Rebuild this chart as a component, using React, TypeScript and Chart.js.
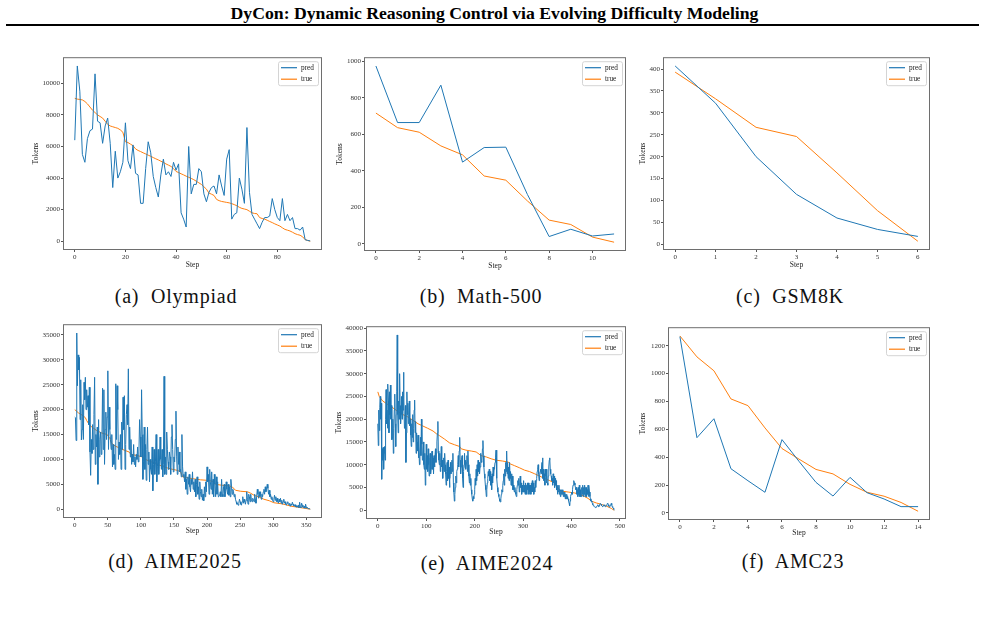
import React, { useEffect, useRef } from 'react';
import { Chart, registerables } from 'chart.js';

Chart.register(...registerables);

const FONT = '"Liberation Serif", "Times New Roman", serif';
const PRED_COLOR = '#1f77b4';
const TRUE_COLOR = '#ff7f0e';

// ---------- (a) Olympiad ----------
const olympiadPred = [
  6400, 11100, 9500, 5500, 5000, 6500, 7000, 7100, 10600, 7600,
  7500, 6200, 7300, 7800, 6200, 3400, 5700, 4000, 4400, 5000,
  7500, 5100, 4600, 6100, 4300, 4200, 2400, 2400, 4600, 6300,
  5600, 4100, 3400, 2800, 4200, 5200, 4200, 4400, 4100, 5000,
  4500, 4900, 1800, 1400, 900, 6000, 3000, 3600, 3600, 4600,
  4400, 3000, 2500, 3100, 3400, 3500, 3000, 4200, 3500, 2900,
  5200, 5800, 1400, 1700, 1800, 4000, 3300, 2400, 7200, 3100,
  1700, 1400, 1100, 800, 1200, 1500, 1500, 1600, 2700, 2000,
  1500, 1300, 2700, 1300, 1700, 1300, 1500, 800, 800, 700,
  900, 100, 50, 20,
];
const olympiadTrue = [
  9050, 9000, 8980, 8950, 8850, 8700, 8500, 8300, 8150, 8000,
  7900, 7800, 7600, 7400, 7300, 7250, 7200, 7150, 7050, 6900,
  6300, 6250, 6150, 6050, 5850, 5750, 5680, 5600, 5530, 5450,
  5380, 5300, 5220, 5150, 5070, 4990, 4900, 4820, 4740, 4600,
  4420, 4350, 4270, 4200, 4120, 4050, 3980, 3900, 3800, 3700,
  3600, 3450, 3300, 3050, 2980, 2900, 2650, 2570, 2520, 2490,
  2460, 2430, 2380, 2320, 2250, 2150, 2080, 2040, 2000, 1900,
  1800, 1760, 1740, 1500, 1440, 1400, 1330, 1250, 1180, 1100,
  1030, 960, 850, 750, 700, 650, 570, 480, 420, 380,
  280, 100, 50, 0,
];
const olympiadXTicks = [0, 20, 40, 60, 80];
const olympiadYTicks = [0, 2000, 4000, 6000, 8000, 10000];

// ---------- (b) Math-500 ----------
const mathPred = [975, 665, 665, 870, 448, 528, 530, 270, 40, 80, 43, 54];
const mathTrue = [717, 637, 612, 537, 488, 372, 349, 235, 130, 106, 37, 9];
const mathXTicks = [0, 2, 4, 6, 8, 10];
const mathYTicks = [0, 200, 400, 600, 800, 1000];

// ---------- (c) GSM8K ----------
const gsmPred = [407, 322, 200, 114, 60, 34, 18];
const gsmTrue = [393, 332, 267, 246, 163, 77, 7];
const gsmXTicks = [0, 1, 2, 3, 4, 5, 6];
const gsmYTicks = [0, 50, 100, 150, 200, 250, 300, 350, 400];

// ---------- (d) AIME2025 ----------
const aime25Pred = [
  18500, 18400, 13800, 35400, 24800, 31000, 28000, 30500, 18000, 26000,
  13900, 16000, 21000, 14000, 25500, 22000, 26500, 20000, 24000, 20500,
  22800, 17000, 24500, 11500, 6800, 14000, 11200, 17000, 12000, 19000,
  26500, 9000, 15000, 12500, 16500, 5000, 18000, 10500, 14000, 15500,
  11000, 13500, 24300, 12000, 24000, 9000, 16000, 19500, 14000, 18500,
  27800, 12000, 20500, 16000, 14000, 12000, 15000, 8500, 13000, 9000,
  11000, 8000, 25200, 14000, 24800, 20000, 10000, 13500, 11000, 15000,
  8000, 17500, 12000, 22500, 16000, 22800, 8000, 13000, 19000, 21000,
  17000, 28200, 12000, 16500, 10500, 14000, 9000, 11000, 9500, 13000,
  9000, 10500, 8500, 11000, 10000, 12500, 9500, 11500, 18000, 14500,
  10500, 24000, 15000, 6000, 9500, 16500, 8000, 13000, 5800, 12000,
  16500, 9000, 11500, 5500, 10000, 8000, 7000, 12500, 3700, 9000,
  12000, 7000, 9500, 15000, 5500, 8500, 12000, 7000, 9500, 14500,
  10000, 8000, 12000, 6500, 9000, 26700, 7000, 10500, 7000, 15500,
  12000, 9500, 8000, 11500, 10500, 7000, 14500, 17000, 12000, 7500,
  10500, 9500, 14000, 19700, 10500, 7000, 12500, 9000, 11500, 7500,
  8000, 6500, 15000, 8500, 6500, 7000, 5500, 7500, 4000, 6000,
  3000, 6500, 5000, 7000, 4500, 3500, 6000, 5000, 7500, 4000,
  5500, 3500, 6000, 2500, 5000, 6500, 3000, 4500, 2000, 5500,
  3500, 2500, 4000, 1800, 3000, 1700, 4500, 2500, 5500, 3500,
  8500, 5500, 7000, 3000, 8000, 5500, 4000, 7500, 3000, 6000,
  2500, 7000, 5000, 2500, 6500, 3000, 5500, 2500, 2600, 2800,
  3500, 2500, 6000, 3000, 2500, 4500, 5000, 2500, 3500, 5500,
  4000, 3000, 5000, 2800, 4500, 2500, 6000, 4500, 3000, 4000,
  3500, 2500, 3000, 2000, 1500, 1000, 1200, 800, 1200, 2000,
  1500, 1000, 800, 1500, 2500, 1200, 2000, 1500, 1000, 1800,
  3500, 2000, 1000, 3000, 2500, 1500, 3000, 1800, 1500, 2200,
  2000, 1500, 3000, 2000, 1200, 2500, 4000, 3000, 2200, 3500,
  2500, 3500, 2000, 3000, 2500, 3500, 4000, 3000, 4500, 3500,
  4000, 5000, 4200, 3000, 3800, 2500, 3000, 2000, 2500, 1800,
  1500, 2000, 2800, 1800, 2500, 1500, 2200, 1500, 1200, 2000,
  1500, 2200, 1200, 1800, 1000, 1500, 2000, 1200, 1500, 1000,
  800, 1200, 1500, 1000, 800, 1200, 600, 1000, 800, 1400,
  1000, 700, 600, 900, 500, 700, 400, 600, 800, 300,
  1400, 500, 300, 1200, 800, 400, 300, 600, 200, 1000,
  400, 200, 300, 100, 200, 50, 0,
];
const aime25TrueSteps = [
  0, 6, 11, 16, 18, 23, 28, 33, 41, 49, 53, 56, 61, 69, 76, 82, 85, 94, 102, 107,
  114, 122, 129, 137, 145, 155, 160, 163, 170, 180, 190, 200, 208, 213, 223, 233, 238, 243, 251, 261,
  266, 271, 279, 286, 294, 301, 312, 319, 327, 337, 347, 356,
];
const aime25TrueValues = [
  20000, 19300, 18900, 18400, 17800, 16800, 16300, 15800, 15300, 15000, 14200, 13200, 12700, 12200, 11800, 11500, 11000, 10800, 10500, 10000,
  9600, 9200, 8800, 8400, 8100, 7800, 7500, 6500, 6300, 6100, 5900, 5800, 5600, 5000, 4800, 4700, 4500, 3800, 3600, 3500,
  3200, 2800, 2400, 2000, 1700, 1300, 1100, 900, 600, 400, 200, 0,
];
const aime25XTicks = [0, 50, 100, 150, 200, 250, 300, 350];
const aime25YTicks = [0, 5000, 10000, 15000, 20000, 25000, 30000, 35000];

// ---------- (e) AIME2024 ----------
const aime24Pred = [
  19000, 14200, 22000, 17500, 22500, 25000, 20000, 23500, 6800, 13500,
  11000, 13800, 9000, 12500, 14000, 11000, 20000, 26500, 19000, 22000,
  18000, 27700, 24000, 17000, 26000, 21000, 27500, 20000, 23000, 15500,
  16000, 20000, 12500, 18000, 22000, 25500, 19000, 14000, 21000, 26000,
  38500, 21000, 17000, 24000, 20000, 30000, 23000, 19000, 21000, 25000,
  20000, 26000, 22000, 30300, 24000, 18000, 20000, 23000, 10500, 17000,
  26000, 21000, 23500, 19000, 21000, 24000, 18500, 20000, 16500, 14000,
  19000, 16000, 21000, 15000, 18000, 22000, 24200, 17000, 19500, 12500,
  17000, 15000, 13000, 16500, 11500, 14000, 10000, 13000, 16000, 12000,
  20000, 14500, 11000, 12000, 15000, 10000, 9000, 12500, 5500, 9500,
  14500, 9000, 12000, 8500, 13500, 10000, 7500, 11500, 12500, 8000,
  9000, 12500, 13000, 9000, 11500, 8000, 12000, 9500, 11000, 13500,
  10500, 12500, 15000, 17000, 19500, 13000, 11000, 10000, 12500, 8500,
  10500, 14000, 9500, 11000, 7000, 9000, 11500, 8500, 12500, 10000,
  8000, 5500, 8500, 10500, 6500, 11000, 7000, 9500, 5000, 7000,
  10500, 8000, 9000, 11000, 8500, 12500, 6000, 4000, 2000, 3500,
  5000, 7500, 6000, 8500, 9000, 10000, 12000, 9500, 13000, 16000,
  11000, 8000, 9500, 11500, 12000, 7000, 5000, 8500, 10000, 12500,
  9500, 11000, 9000, 10500, 12000, 8500, 13000, 10000, 7500, 6000,
  8000, 5500, 7000, 4500, 3500, 2500, 2000, 3000, 2500, 3500,
  4500, 7000, 5500, 9000, 6500, 10000, 7500, 11000, 8500, 10500,
  8000, 9500, 11000, 12500, 10500, 11000, 13500, 15300, 12000, 9500,
  8000, 7000, 5500, 4500, 3000, 4500, 6000, 7000, 8500, 7500,
  9000, 6500, 8500, 5500, 7500, 4500, 8000, 6000, 9500, 7500,
  9000, 9500, 10500, 11500, 13200, 9000, 7000, 5000, 4000, 3500,
  3000, 2500, 2000, 1800, 2500, 3500, 4500, 4000, 5500, 6500,
  8000, 5500, 9000, 7500, 10500, 8500, 13000, 8000, 10500, 7000,
  9500, 6500, 10500, 7000, 8500, 5500, 8000, 5500, 7500, 4500,
  5500, 4500, 4000, 5000, 4000, 3500, 3000, 4500, 5500, 6500,
  5500, 7000, 4000, 5500, 7500, 5000, 6000, 3500, 5500, 4000,
  4000, 6500, 4000, 5500, 3500, 6000, 4500, 5500, 3500, 6000,
  4500, 6000, 3500, 5500, 4000, 5500, 3500, 6000, 4000, 6500,
  4000, 6000, 3500, 5000, 4000, 6500, 5000, 6500, 7000, 8500,
  9000, 10000, 8000, 6500, 7500, 8500, 9000, 8000, 9500, 10500,
  11500, 7000, 9000, 6500, 8000, 5500, 9000, 7500, 9000, 6000,
  6000, 5500, 7500, 9500, 11000, 11500, 9000, 8000, 7500, 6500,
  7000, 5500, 8000, 6000, 7500, 5000, 7000, 5500, 6500, 4500,
  5000, 3500, 5500, 4000, 5500, 3500, 4500, 3000, 4500, 3500,
  4500, 3500, 4500, 3000, 4000, 3000, 4000, 2500, 3500, 2500,
  3500, 3000, 2500, 2500, 2000, 1500, 1000, 2000, 3000, 3500,
  4000, 3500, 4500, 5500, 6000, 6500, 6000, 5500, 5000, 4500,
  5000, 3500, 4500, 3000, 5000, 3500, 5500, 3000, 4500, 3000,
  3000, 5000, 3500, 5500, 3000, 5000, 3500, 5500, 3000, 5000,
  5000, 3000, 4500, 3500, 5500, 3000, 5500, 4000, 3000, 2500,
  2000, 2000, 1800, 1500, 1200, 1000, 900, 800, 800, 700,
  600, 700, 800, 1000, 1200, 1000, 800, 900, 1200, 1500,
  1500, 1300, 1000, 900, 800, 900, 1100, 1200, 1000, 900,
  800, 900, 1000, 1200, 1500, 1400, 1200, 900, 700, 800,
  1000, 1300, 1500, 1200, 800, 600, 500, 300, 0,
];
const aime24TrueSteps = [
  0, 3, 10, 21, 31, 41, 52, 62, 72, 83, 93, 103, 114, 121, 127, 138, 148, 158, 169, 172,
  182, 193, 203, 213, 224, 234, 244, 258, 269, 273, 282, 293, 303, 313, 324, 334, 344, 355, 365, 368,
  374, 379, 393, 406, 417, 427, 434, 441, 451, 461, 472, 482, 488,
];
const aime24TrueValues = [
  26000, 25000, 24000, 23200, 22500, 21700, 21000, 20500, 19800, 19000, 18500, 18000, 17400, 16800, 16400, 15600, 14800, 14400, 14000, 13500,
  13200, 13000, 12800, 12000, 11700, 11300, 11000, 10800, 10600, 10200, 9800, 9300, 8800, 8500, 8000, 7500, 7000, 6500, 6000, 5500,
  4600, 4200, 4000, 3800, 3500, 3000, 2600, 2000, 1600, 1300, 900, 400, 0,
];
const aime24XTicks = [0, 100, 200, 300, 400, 500];
const aime24YTicks = [0, 5000, 10000, 15000, 20000, 25000, 30000, 35000, 40000];

// ---------- (f) AMC23 ----------
const amcPred = [1265, 540, 676, 317, 231, 148, 526, 370, 219, 121, 255, 145, 100, 45, 45];
const amcTrue = [1270, 1120, 1020, 818, 770, 610, 462, 386, 312, 280, 205, 148, 120, 75, 12];
const amcXTicks = [0, 2, 4, 6, 8, 10, 12, 14];
const amcYTicks = [0, 200, 400, 600, 800, 1000, 1200];

const TITLE = 'DyCon: Dynamic Reasoning Control via Evolving Difficulty Modeling';
const LEGEND_LABELS = ['pred', 'true'];

const stepsOf = (arr: number[]) => arr.map((_, i) => i);

type PanelCfg = {
  caption: string;
  predX: number[];
  predY: number[];
  trueX: number[];
  trueY: number[];
  xTicks: number[];
  yTicks: number[];
  box: [number, number, number, number];
  scaleLeft: number;
  xH: number;
  capX: number;
  capTop: number;
};

const panels: PanelCfg[] = [
  {
    caption: '(a)  Olympiad', predX: stepsOf(olympiadPred), predY: olympiadPred,
    trueX: stepsOf(olympiadTrue), trueY: olympiadTrue, xTicks: olympiadXTicks, yTicks: olympiadYTicks,
    box: [63, 56, 322, 250], scaleLeft: 32, xH: 22, capX: 176, capTop: 286,
  },
  {
    caption: '(b)  Math-500', predX: stepsOf(mathPred), predY: mathPred,
    trueX: stepsOf(mathTrue), trueY: mathTrue, xTicks: mathXTicks, yTicks: mathYTicks,
    box: [364, 56, 626, 251], scaleLeft: 336, xH: 22, capX: 481, capTop: 286,
  },
  {
    caption: '(c)  GSM8K', predX: stepsOf(gsmPred), predY: gsmPred,
    trueX: stepsOf(gsmTrue), trueY: gsmTrue, xTicks: gsmXTicks, yTicks: gsmYTicks,
    box: [663, 56, 930, 250], scaleLeft: 639, xH: 22, capX: 790, capTop: 286,
  },
  {
    caption: '(d)  AIME2025', predX: stepsOf(aime25Pred), predY: aime25Pred,
    trueX: aime25TrueSteps, trueY: aime25TrueValues, xTicks: aime25XTicks, yTicks: aime25YTicks,
    box: [63, 323, 322, 518], scaleLeft: 32, xH: 20, capX: 175, capTop: 551,
  },
  {
    caption: '(e)  AIME2024', predX: stepsOf(aime24Pred), predY: aime24Pred,
    trueX: aime24TrueSteps, trueY: aime24TrueValues, xTicks: aime24XTicks, yTicks: aime24YTicks,
    box: [366, 325, 626, 519], scaleLeft: 335, xH: 20, capX: 487, capTop: 553,
  },
  {
    caption: '(f)  AMC23', predX: stepsOf(amcPred), predY: amcPred,
    trueX: stepsOf(amcTrue), trueY: amcTrue, xTicks: amcXTicks, yTicks: amcYTicks,
    box: [668, 326, 930, 520], scaleLeft: 639, xH: 20, capX: 793, capTop: 551,
  },
];

const frameLegendPlugin = {
  id: 'frameLegend',
  afterDatasetsDraw(chart: any) {
    const { ctx, chartArea: a } = chart;
    ctx.save();
    ctx.strokeStyle = '#6e6e6e';
    ctx.lineWidth = 1;
    ctx.strokeRect(a.left + 0.5, a.top + 0.5, a.right - a.left - 1, a.bottom - a.top - 1);
    const w = 40, h = 24;
    const bx = a.right - 4 - w, by = a.top + 4;
    ctx.beginPath();
    if (ctx.roundRect) ctx.roundRect(bx + 0.5, by + 0.5, w, h, 2);
    else ctx.rect(bx + 0.5, by + 0.5, w, h);
    ctx.fillStyle = 'rgba(255,255,255,0.85)';
    ctx.fill();
    ctx.strokeStyle = '#d4d4d4';
    ctx.stroke();
    const colors = [PRED_COLOR, TRUE_COLOR];
    ctx.font = `7.3px ${FONT}`;
    ctx.textBaseline = 'middle';
    LEGEND_LABELS.forEach((lab, i) => {
      const y = by + 6.5 + i * 11.5;
      ctx.strokeStyle = colors[i];
      ctx.lineWidth = 1.2;
      ctx.beginPath();
      ctx.moveTo(bx + 3, y);
      ctx.lineTo(bx + 19, y);
      ctx.stroke();
      ctx.fillStyle = '#222';
      ctx.fillText(lab, bx + 23, y);
    });
    ctx.restore();
  },
};

function Panel({ cfg }: { cfg: PanelCfg }) {
  const ref = useRef<HTMLCanvasElement>(null);
  const [L, T, R, B] = cfg.box;
  const padTop = 4, padRight = 4;
  const left = cfg.scaleLeft;
  const top = T - padTop;
  const width = R - left + padRight;
  const height = padTop + (B - T) + cfg.xH;

  useEffect(() => {
    const yAll = [...cfg.predY, ...cfg.trueY];
    const xAll = [...cfg.predX, ...cfg.trueX];
    const ymin = Math.min(...yAll), ymax = Math.max(...yAll);
    const xmin = Math.min(...xAll), xmax = Math.max(...xAll);
    const yM = (ymax - ymin) * 0.05, xM = (xmax - xmin) * 0.05;
    const tickFont = { family: FONT, size: 7 };
    const titleFont = { family: FONT, size: 7.5 };
    const chart = new Chart(ref.current as HTMLCanvasElement, {
      type: 'line',
      data: {
        datasets: [
          {
            label: 'pred',
            data: cfg.predX.map((x, i) => ({ x, y: cfg.predY[i] })),
            borderColor: PRED_COLOR,
            borderWidth: 1,
            pointRadius: 0,
            fill: false,
            tension: 0,
          },
          {
            label: 'true',
            data: cfg.trueX.map((x, i) => ({ x, y: cfg.trueY[i] })),
            borderColor: TRUE_COLOR,
            borderWidth: 1,
            pointRadius: 0,
            fill: false,
            tension: 0,
          },
        ],
      },
      options: {
        animation: false,
        responsive: false,
        events: [],
        layout: { padding: { top: padTop, right: padRight, left: 0, bottom: 0 } },
        plugins: { legend: { display: false }, tooltip: { enabled: false } },
        scales: {
          x: {
            type: 'linear',
            min: xmin - xM,
            max: xmax + xM,
            afterBuildTicks: (ax: any) => { ax.ticks = cfg.xTicks.map((v) => ({ value: v })); },
            afterFit: (sc: any) => { sc.height = cfg.xH; },
            ticks: { font: tickFont, color: '#333', padding: 1, maxRotation: 0, autoSkip: false, callback: (v: any) => String(v) },
            grid: { drawOnChartArea: false, drawTicks: true, tickLength: 2, color: '#555' },
            border: { display: false },
            title: { display: true, text: 'Step', font: titleFont, color: '#222', padding: { top: 0, bottom: 2 } },
          },
          y: {
            type: 'linear',
            min: ymin - yM,
            max: ymax + yM,
            afterBuildTicks: (ax: any) => { ax.ticks = cfg.yTicks.map((v) => ({ value: v })); },
            afterFit: (sc: any) => { sc.width = L - left; },
            ticks: { font: tickFont, color: '#333', padding: 1, autoSkip: false, callback: (v: any) => String(v) },
            grid: { drawOnChartArea: false, drawTicks: true, tickLength: 2, color: '#555' },
            border: { display: false },
            title: { display: true, text: 'Tokens', font: titleFont, color: '#222', padding: { top: 0, bottom: 0 } },
          },
        },
      } as any,
      plugins: [frameLegendPlugin],
    });
    return () => chart.destroy();
  }, []);

  return (
    <>
      <div style={{ position: 'absolute', left, top, width, height }}>
        <canvas ref={ref} width={width} height={height} style={{ width, height, display: 'block' }} />
      </div>
      <div
        style={{
          position: 'absolute',
          left: cfg.capX,
          top: cfg.capTop,
          transform: 'translateX(-50%)',
          whiteSpace: 'pre',
          fontFamily: FONT,
          fontSize: 20,
          letterSpacing: 0.8,
          lineHeight: 1,
          color: '#111',
        }}
      >
        {cfg.caption}
      </div>
    </>
  );
}

export default function App() {
  return (
    <div style={{ position: 'fixed', left: 0, top: 0, width: 985, height: 622, background: '#fff', overflow: 'hidden' }}>
      <div
        style={{
          position: 'absolute',
          left: 2,
          top: 4.5,
          width: 985,
          textAlign: 'center',
          fontFamily: FONT,
          fontWeight: 'bold',
          fontSize: 17.7,
          lineHeight: 1,
          whiteSpace: 'nowrap',
          color: '#000',
        }}
      >
        {TITLE}
      </div>
      <div style={{ position: 'absolute', left: 6, top: 24, width: 973, height: 2, background: '#000' }} />
      {panels.map((p, i) => (
        <Panel key={i} cfg={p} />
      ))}
    </div>
  );
}
